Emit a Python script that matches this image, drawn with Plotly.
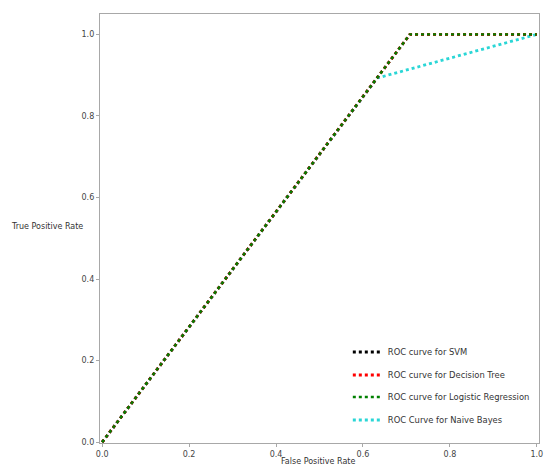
import plotly.graph_objects as go

# ROC data
fpr_svm = [0.0, 0.708, 1.0]
tpr_svm = [0.0, 1.0, 1.0]
fpr_dt = [0.0, 0.708, 1.0]
tpr_dt = [0.0, 1.0, 1.0]
fpr_lr = [0.0, 0.708, 1.0]
tpr_lr = [0.0, 1.0, 1.0]
fpr_nb = [0.0, 0.633, 1.0]
tpr_nb = [0.0, 0.893, 1.0]

names = ["ROC curve for SVM", "ROC curve for Decision Tree",
         "ROC curve for Logistic Regression", "ROC Curve for Naive Bayes"]
colors = ["#000000", "#ff0000", "#008000", "#2ad6d6"]
widths = [2.8, 2.8, 2.4, 2.8]
legend_ids = ["legend", "legend2", "legend3", "legend4"]
legend_rows_y = [0.2121, 0.1585, 0.1072, 0.0536]
tick_vals = [0.0, 0.2, 0.4, 0.6, 0.8, 1.0]
tick_text = ["0.0", "0.2", "0.4", "0.6", "0.8", "1.0"]

xs_all = [fpr_svm, fpr_dt, fpr_lr, fpr_nb]
ys_all = [tpr_svm, tpr_dt, tpr_lr, tpr_nb]

fig = go.Figure()
# draw Naive Bayes first so the overlapping curves sit on top of it
for i in [3, 0, 1, 2]:
    fig.add_trace(go.Scatter(x=xs_all[i], y=ys_all[i], mode="lines", name=names[i],
                             legend=legend_ids[i],
                             line=dict(color=colors[i], width=widths[i], dash="dot")))

axis_common = dict(showgrid=False, zeroline=False, showline=True, mirror=True,
                   linecolor="#a8a8a8", linewidth=1.3, ticks="outside", ticklen=3,
                   tickcolor="#a8a8a8", tickvals=tick_vals, ticktext=tick_text,
                   ticklabeloverflow="allow",
                   tickfont=dict(family="DejaVu Sans", size=8, color="#444"))

legend_style = dict(x=0.5645, xanchor="left", yanchor="middle",
                    bgcolor="rgba(0,0,0,0)", itemwidth=30,
                    font=dict(family="DejaVu Sans", size=8.4, color="#333"))

fig.update_layout(
    width=544, height=465,
    margin=dict(l=100, r=1, t=14, b=22),
    paper_bgcolor="white", plot_bgcolor="white",
    xaxis=dict(range=[-0.005, 1.005], **axis_common),
    yaxis=dict(range=[-0.002, 1.05], **axis_common),
    showlegend=True,
    annotations=[
        dict(text="True Positive Rate", xref="paper", yref="paper",
             x=-0.1196, y=0.5035, xanchor="center", yanchor="middle", showarrow=False,
             font=dict(family="DejaVu Sans", size=8, color="#333")),
        dict(text="False Positive Rate", xref="paper", yref="paper",
             x=0.4966, y=-0.042, xanchor="center", yanchor="middle", showarrow=False,
             font=dict(family="DejaVu Sans", size=8, color="#333")),
    ],
)
for lid, ly in zip(legend_ids, legend_rows_y):
    fig.update_layout({lid: dict(y=ly, **legend_style)})

fig.write_html("out.html", config={"displayModeBar": False},
               post_script="document.body.style.margin='0px';")
